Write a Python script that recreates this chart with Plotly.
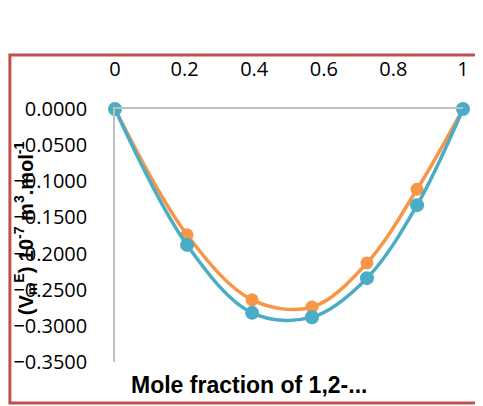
import plotly.graph_objects as go

# mole fraction values
x_frac = [0, 0.207, 0.394, 0.566, 0.724, 0.868, 1]
# excess molar volume, two series
y_orange = [0.0, -0.174, -0.264, -0.274, -0.213, -0.111, 0.0]
y_blue = [0.0, -0.188, -0.282, -0.288, -0.234, -0.133, 0.0]

orange = '#F79646'
blue = '#4BACC6'

fig = go.Figure()

fig.add_trace(go.Scatter(
    x=x_frac, y=y_orange,
    mode='lines+markers',
    line=dict(color=orange, width=3.5, shape='spline', smoothing=1),
    marker=dict(color=orange, size=13),
    cliponaxis=False,
    showlegend=False,
))

fig.add_trace(go.Scatter(
    x=x_frac, y=y_blue,
    mode='lines+markers',
    line=dict(color=blue, width=3.5, shape='spline', smoothing=1),
    marker=dict(color=blue, size=14),
    cliponaxis=False,
    showlegend=False,
))

tick_font = dict(family='Open Sans', size=20, color='#000000')

# page body has an 8px margin, so the margins are shifted by that
fig.update_layout(
    width=483, height=406,
    margin=dict(l=107, r=28, t=101, b=52),
    paper_bgcolor='white',
    plot_bgcolor='white',
    xaxis=dict(
        range=[0, 1], side='top', tickvals=[0, 0.2, 0.4, 0.6, 0.8, 1],
        showgrid=False, zeroline=False, showline=True,
        linecolor='#BFBFBF', linewidth=1.5, ticks='',
        ticklabelstandoff=23, tickfont=tick_font, automargin=False,
    ),
    yaxis=dict(
        range=[-0.35, 0], dtick=0.05, tick0=0, tickformat='.4f',
        showgrid=False, zeroline=False, showline=True,
        linecolor='#BFBFBF', linewidth=1.5, ticks='',
        ticklabelstandoff=22, tickfont=tick_font, automargin=False,
    ),
    shapes=[dict(
        type='rect', xref='paper', yref='paper',
        x0=-0.302, x1=1.1, y0=-0.162, y1=1.213,
        line=dict(color='#C0504D', width=3),
    )],
    annotations=[
        dict(
            text='<b>Mole fraction of 1,2-...</b>',
            xref='paper', yref='paper', x=0.385, y=-0.091,
            showarrow=False, xanchor='center', yanchor='middle',
            font=dict(family='Liberation Sans', size=23, color='#000000'),
        ),
        dict(
            text='<b>(V<sub>m</sub><sup>E</sup>) 10<sup>-7</sup> m<sup>3</sup>.mol<sup>-1</sup></b>',
            xref='paper', yref='paper', x=-0.255, y=0.53,
            showarrow=False, xanchor='center', yanchor='middle', textangle=-90,
            font=dict(family='Liberation Sans', size=20, color='#000000'),
        ),
    ],
)

fig.write_html('out.html')
